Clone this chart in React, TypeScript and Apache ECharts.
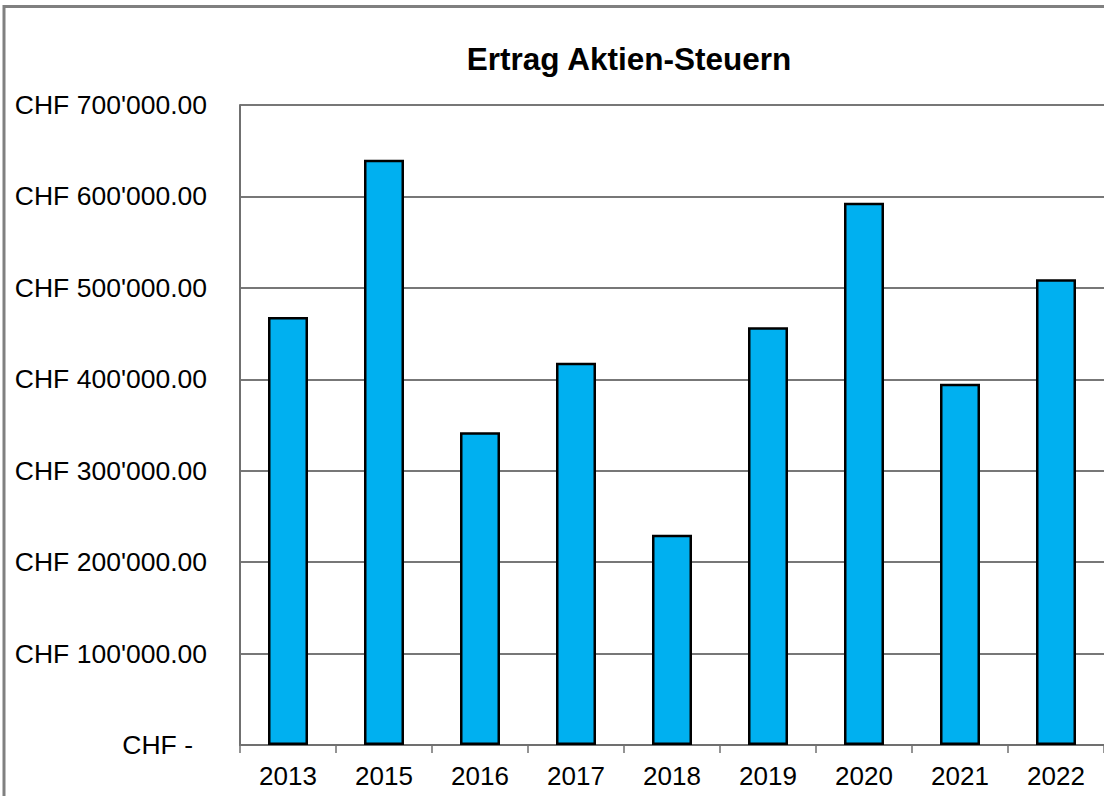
import React, { useEffect, useRef } from "react";
import * as echarts from "echarts";

const categories = ["2013", "2015", "2016", "2017", "2018", "2019", "2020", "2021", "2022"];
const ertrag = [468000, 640000, 342000, 418000, 230000, 457000, 593000, 395000, 509500];
const yTicks = [0, 100000, 200000, 300000, 400000, 500000, 600000, 700000];
const titleText = "Ertrag Aktien-Steuern";

const FONT = "'Liberation Sans', Arial, sans-serif";

function fmtCHF(v: number): string {
  if (v === 0) return "{z|CHF -}";
  const s = Math.round(v).toString().replace(/\B(?=(\d{3})+(?!\d))/g, "'");
  return "CHF " + s + ".00";
}

export default function App() {
  const ref = useRef<HTMLDivElement>(null);
  useEffect(() => {
    if (!ref.current) return;
    const chart = echarts.init(ref.current, null, { renderer: "svg" });
    chart.setOption({
      animation: false,
      backgroundColor: "#ffffff",
      title: {
        text: titleText,
        left: 624,
        top: 38,
        padding: 5,
        textAlign: "center",
        textStyle: { fontFamily: FONT, fontSize: 31.5, fontWeight: "bold", color: "#000" },
      },
      graphic: [
        {
          type: "rect",
          shape: { x: 4, y: 6.5, width: 1300, height: 1000 },
          style: { fill: "none", stroke: "#808080", lineWidth: 3 },
          silent: true,
        },
      ],
      grid: { left: 240, top: 105, bottom: 51, right: -4, containLabel: false },
      xAxis: {
        type: "category",
        data: categories,
        axisLine: { show: true, lineStyle: { color: "#707070", width: 2 } },
        axisTick: { show: true, length: 8, lineStyle: { color: "#707070", width: 1.5 } },
        axisLabel: { fontFamily: FONT, fontSize: 26, color: "#000", margin: 18 },
      },
      yAxis: {
        type: "value",
        min: 0,
        max: yTicks[yTicks.length - 1],
        interval: 100000,
        axisLine: { show: true, lineStyle: { color: "#707070", width: 2 } },
        axisTick: { show: false },
        splitLine: { show: true, lineStyle: { color: "#4a4a4a", width: 1.5 } },
        axisLabel: {
          fontFamily: FONT,
          fontSize: 26.5,
          color: "#000",
          margin: 33,
          formatter: (v: number) => fmtCHF(v),
          rich: { z: { fontFamily: FONT, fontSize: 26.5, color: "#000", padding: [0, 14, 0, 0] } },
        },
      },
      series: [
        {
          type: "bar",
          data: ertrag,
          barWidth: 40,
          itemStyle: { color: "#00B0F0", borderColor: "#000", borderWidth: 2.5 },
        },
      ],
    });
    return () => chart.dispose();
  }, []);
  return (
    <div
      ref={ref}
      style={{ position: "absolute", left: 0, top: 0, width: 1104, height: 796, overflow: "hidden" }}
    />
  );
}
